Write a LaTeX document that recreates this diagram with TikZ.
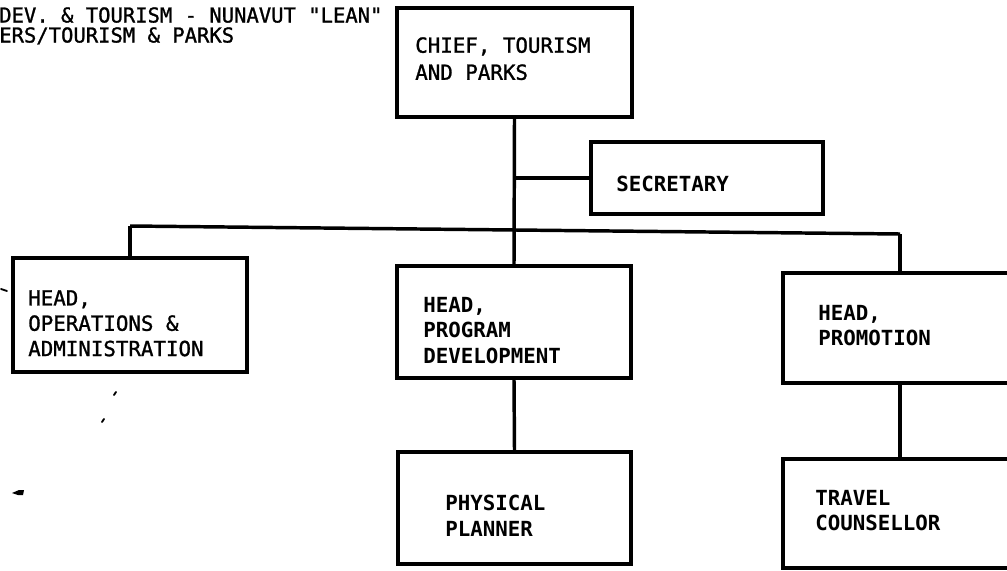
\documentclass[tikz,border=0pt]{standalone}
\usepackage{fontspec}
\newfontfamily\orgfont{DejaVu Sans Mono}
\newfontfamily\orgmed[FakeBold=1.2]{DejaVu Sans Mono}
\usetikzlibrary{fit}
\begin{document}
\begin{tikzpicture}[x=0.75pt, y=-0.75pt,
  orgbox/.style={draw, line width=2.7pt, inner sep=0pt, rectangle},
  orgtext/.style={anchor=north west, inner sep=0pt, align=left,
    font=\orgmed\fontsize{15.6}{19}\selectfont},
  orgbold/.style={orgtext, font=\orgfont\bfseries\fontsize{15.6}{19}\selectfont},
  link/.style={line width=2.6pt},
  speck/.style={line width=1.4pt, line cap=round}]
\useasboundingbox (0,0) rectangle (1007,571);

% heading
\node[orgtext, font=\orgmed\fontsize{15.4}{15}\selectfont] (heading) at (-1,7)
  {DEV. \& TOURISM - NUNAVUT "LEAN"\\ERS/TOURISM \& PARKS};

% boxes
\node[orgbox, fit={(397,8) (632,117)}] (chief) {};
\node[orgbox, fit={(591,142) (823,214)}] (sec) {};
\node[orgbox, fit={(13,258) (247,372)}] (ops) {};
\node[orgbox, fit={(397,266) (631,378)}] (prog) {};
\node[orgbox, fit={(398,452) (631,564)}] (plan) {};
\node[orgbox, fit={(783,273) (1017,383)}] (promo) {};
\node[orgbox, fit={(783,459) (1017,568)}] (travel) {};

% box texts
\node[orgtext, font=\orgmed\fontsize{15.6}{20.3}\selectfont] (chieft) at (415,37) {CHIEF, TOURISM\\AND PARKS};
\node[orgbold] (sect) at (616,176) {SECRETARY};
\node[orgtext] (opst) at (28,290) {HEAD,\\OPERATIONS \&\\ADMINISTRATION};
\node[orgbold] (progt) at (423,297) {HEAD,\\PROGRAM\\DEVELOPMENT};
\node[orgbold] (plant) at (445,495) {PHYSICAL\\PLANNER};
\node[orgbold] (promot) at (818,305) {HEAD,\\PROMOTION};
\node[orgbold] (travelt) at (815,490) {TRAVEL\\COUNSELLOR};

% connectors
\coordinate (busL) at (130,226);
\coordinate (busR) at (900,234);
\draw[link] (chief.south) -- (prog.north);
\draw[link] (chief.south |- sec.west) -- (sec.west);
\draw[link] (busL) -- (busR);
\draw[link] (busL) -- (ops.north);
\draw[link] (busR) -- (promo.north);
\draw[link] (prog.south) -- (plan.north);
\draw[link] (promo.south) -- (travel.north);

% specks on the sheet
\draw[speck] (1,289) -- (7,291);
\draw[speck] (114,395) -- (116,392);
\draw[speck] (102,422) -- (104,419);
\fill (12,493) -- (19,490) -- (24,490) -- (23,495) -- (18,495) -- cycle;
\end{tikzpicture}
\end{document}
